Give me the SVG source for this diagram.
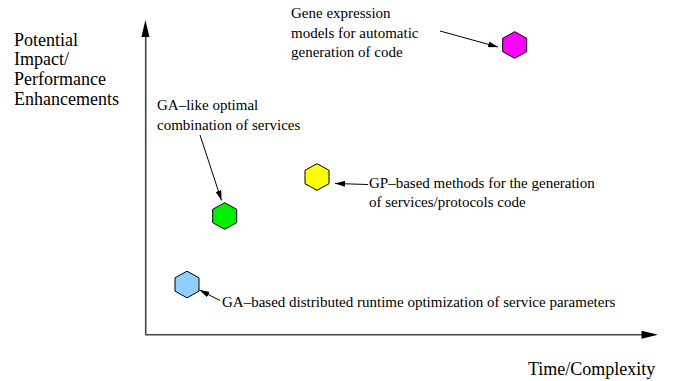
<svg xmlns="http://www.w3.org/2000/svg" width="674" height="381" viewBox="0 0 674 381">
<style>
text{font-family:"Liberation Serif","Times New Roman",serif;font-size:15px;fill:#000}
text.ax{font-size:18px}
.hex{stroke:#000;stroke-width:1}
.lead{stroke:#000;stroke-width:1;fill:none;marker-end:url(#ah)}
.axis{stroke:#444;stroke-width:1.6;fill:none}
</style>
<defs>
<polygon id="hx" points="0,-13.3 12,-6.7 12,6.7 0,13.3 -12,6.7 -12,-6.7"/>
<marker id="ah" viewBox="0 0 10 6" refX="10" refY="3" markerWidth="10" markerHeight="6" markerUnits="userSpaceOnUse" orient="auto">
<path d="M0,0 L10,3 L0,6 Z" fill="#000"/>
</marker>
</defs>
<g id="axes">
<path class="axis" d="M145.7,36 L145.7,334.7 L642,334.7"/>
<path d="M145.4,20 L149.4,37 L141.4,37 Z" fill="#000"/>
<path d="M658,334.7 L641.5,330.7 L641.5,338.7 Z" fill="#000"/>
</g>
<g id="axis-labels">
<text class="ax" x="14" y="46">Potential</text>
<text class="ax" x="14" y="65">Impact/</text>
<text class="ax" x="14" y="85">Performance</text>
<text class="ax" x="14" y="105">Enhancements</text>
<text class="ax" x="528" y="375">Time/Complexity</text>
</g>
<g id="node-gene">
<use href="#hx" x="514.7" y="45" class="hex" fill="#ff00ff"/>
<text x="291" y="18">Gene expression</text>
<text x="291" y="38">models for automatic</text>
<text x="291" y="57">generation of code</text>
</g>
<g id="node-galike">
<use href="#hx" x="224.7" y="216" class="hex" fill="#00ee00"/>
<text x="157" y="110">GA&#8211;like optimal</text>
<text x="157" y="130">combination of services</text>
</g>
<g id="node-gp">
<use href="#hx" x="317" y="177" class="hex" fill="#ffff00"/>
<text x="369" y="188">GP&#8211;based methods for the generation</text>
<text x="369" y="207">of services/protocols code</text>
</g>
<g id="node-gabased">
<use href="#hx" x="187" y="284.5" class="hex" fill="#8ecfff"/>
<text x="222" y="307">GA&#8211;based distributed runtime optimization of service parameters</text>
</g>
<g id="connectors">
<line class="lead" x1="440" y1="31" x2="498" y2="47"/>
<line class="lead" x1="200" y1="135" x2="221.5" y2="200.5"/>
<line class="lead" x1="368" y1="184.5" x2="335" y2="183.5"/>
<line class="lead" x1="220" y1="300.5" x2="199.5" y2="290"/>
</g>
</svg>
